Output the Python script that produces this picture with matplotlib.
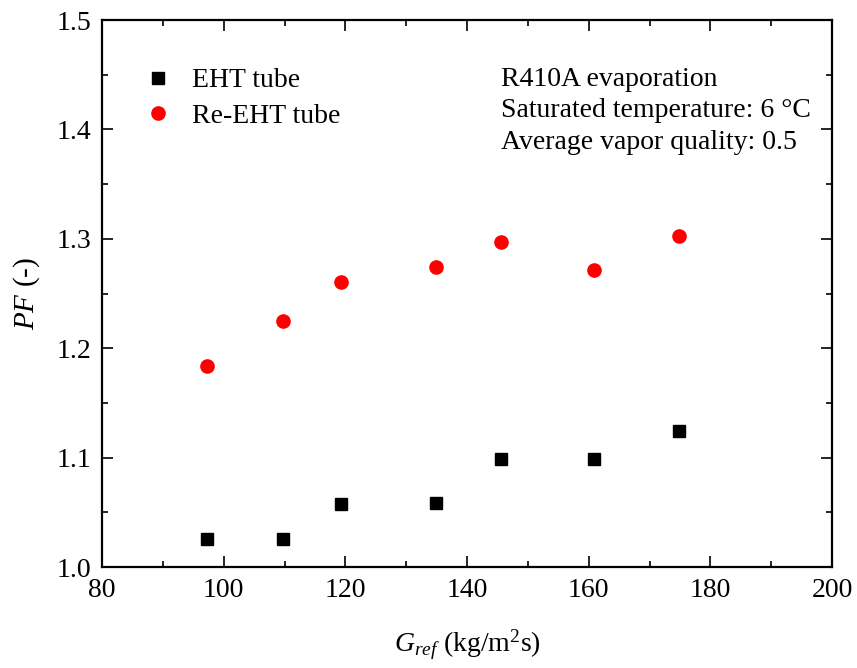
import matplotlib
matplotlib.use("Agg")
import matplotlib.pyplot as plt
from matplotlib.ticker import MultipleLocator

plt.rcParams['font.family'] = ['Liberation Serif', 'DejaVu Serif']
plt.rcParams['mathtext.fontset'] = 'custom'
plt.rcParams['mathtext.rm'] = 'Liberation Serif'
plt.rcParams['mathtext.it'] = 'Liberation Serif:italic'

# mass flux (kg/m2s) and performance factor
g_ref = [97.2, 109.8, 119.2, 134.9, 145.5, 160.8, 174.9]
pf_eht = [1.026, 1.026, 1.058, 1.059, 1.099, 1.099, 1.124]
pf_re_eht = [1.184, 1.225, 1.261, 1.274, 1.297, 1.272, 1.303]

notes = ["R410A evaporation",
         "Saturated temperature: 6 \u00b0C",
         "Average vapor quality: 0.5"]

fig = plt.figure(figsize=(8.57, 6.68), dpi=100)
ax = fig.add_axes([0.119, 0.151, 0.852, 0.819])

ax.plot(g_ref, pf_eht, ls='none', marker='s', ms=8.5, color='black',
        label='EHT tube')
ax.plot(g_ref, pf_re_eht, ls='none', marker='o', ms=9.5, color='red',
        mec='red', label='Re-EHT tube')

ax.set_xlim(80, 200)
ax.set_ylim(1.0, 1.5)
ax.xaxis.set_major_locator(MultipleLocator(20))
ax.xaxis.set_minor_locator(MultipleLocator(10))
ax.yaxis.set_major_locator(MultipleLocator(0.1))
ax.yaxis.set_minor_locator(MultipleLocator(0.05))
ax.yaxis.set_major_formatter(plt.FormatStrFormatter('%.1f'))

ax.tick_params(which='both', direction='in', top=True, right=True,
               labelsize=20, width=1.2)
ax.tick_params(which='major', length=8, pad=8)
ax.tick_params(which='minor', length=4.5)
for s in ax.spines.values():
    s.set_linewidth(1.6)

ax.set_xlabel(r'$G_{ref}$ (kg/m$^2$s)', fontsize=20, labelpad=18)
ax.set_ylabel(r'$PF$ (-)', fontsize=21, labelpad=10)

ax.legend(loc='upper left', bbox_to_anchor=(0.02, 0.958), frameon=False,
          fontsize=20, handletextpad=0.6, labelspacing=0.35,
          handlelength=1.2)

ax.text(0.547, 0.915, "\n".join(notes), transform=ax.transAxes,
        fontsize=20, va='top', ha='left', linespacing=1.35)

fig.savefig('out.png', dpi=100)
